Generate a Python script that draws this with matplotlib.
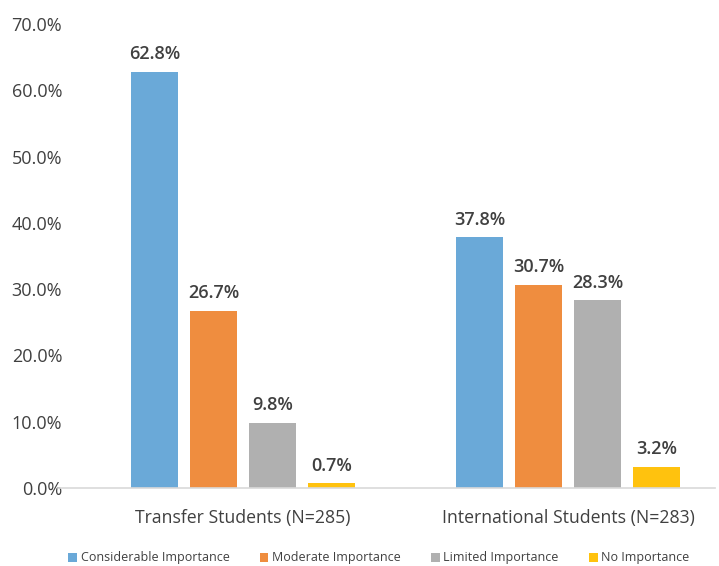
import numpy as np
import matplotlib
matplotlib.use("Agg")
import matplotlib.pyplot as plt
from matplotlib.ticker import PercentFormatter

plt.rcParams['font.family'] = ['Open Sans', 'DejaVu Sans']

groups = ['Transfer Students (N=285)', 'International Students (N=283)']
series = ['Considerable Importance', 'Moderate Importance', 'Limited Importance', 'No Importance']
transfer = [62.8, 26.7, 9.8, 0.7]
international = [37.8, 30.7, 28.3, 3.2]
colors = ['#6aa9d8', '#ef8d3f', '#b0b0b0', '#ffc20e']

vals = np.array([transfer, international]) / 100.0

fig = plt.figure(figsize=(7.19, 5.66), dpi=100)
ax = fig.add_axes([58 / 719, 1 - 488 / 566, 657 / 719, 464 / 566])

x = np.arange(len(groups))
step = 0.1815
width = 0.145
for i, name in enumerate(series):
    pos = x + (i - 1.5) * step
    bars = ax.bar(pos, vals[:, i], width, color=colors[i], label=name)
    for b, v in zip(bars, vals[:, i]):
        ax.text(b.get_x() + b.get_width() / 2, v + 0.013, f'{v*100:.1f}%',
                ha='center', va='bottom', fontsize=13, color='#404040', fontweight='semibold')

ax.set_xlim(-0.569, 1.452)
ax.set_ylim(0, 0.7)
ax.set_yticks(np.arange(0, 0.71, 0.1))
ax.yaxis.set_major_formatter(PercentFormatter(1.0, decimals=1))
ax.set_xticks(x)
ax.set_xticklabels(groups, fontsize=12.7)
ax.tick_params(axis='both', length=0, colors='#404040')
ax.tick_params(axis='y', labelsize=13, pad=-3)
ax.tick_params(axis='x', pad=15)
for s in ['top', 'right', 'left']:
    ax.spines[s].set_visible(False)
ax.spines['bottom'].set_color('#d9d9d9')
ax.spines['bottom'].set_linewidth(1.2)

fig.legend(loc='center', bbox_to_anchor=(0.527, 1 - 558 / 566), ncol=4, frameon=False,
           fontsize=9, handlelength=0.7, handleheight=0.7, handletextpad=0.3,
           columnspacing=2.4, labelcolor='#404040')

fig.savefig('out.png', dpi=100)
